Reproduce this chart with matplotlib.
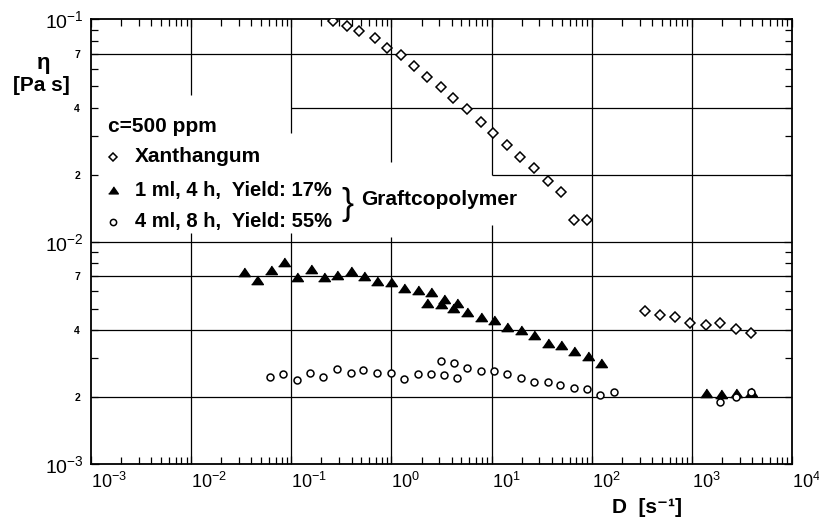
import matplotlib.pyplot as plt

plt.rcParams['font.family'] = ['Liberation Sans', 'DejaVu Sans']
plt.rcParams['mathtext.fontset'] = 'custom'
plt.rcParams['mathtext.rm'] = 'Liberation Sans'
plt.rcParams['mathtext.default'] = 'regular'

# Xanthangum
xan_D = [0.263, 0.363, 0.479, 0.683, 0.912, 1.24, 1.69, 2.26, 3.12, 4.16,
         5.66, 7.82, 10.4, 14.4, 19.3, 26.6, 36.2, 49.2, 66.8, 89.5,
         342, 483, 683, 965, 1371, 1923, 2735, 3893]
xan_eta = [0.0984, 0.0935, 0.0888, 0.0822, 0.0746, 0.069, 0.0618, 0.0551, 0.0495, 0.0442,
           0.0394, 0.0347, 0.031, 0.0272, 0.0241, 0.0214, 0.0187, 0.0167, 0.01253, 0.01253,
           0.00489, 0.00468, 0.00457, 0.0043, 0.00422, 0.0043, 0.00404, 0.00387]

# 1 ml, 4 h, yield 17%
tri_D = [0.0338, 0.0458, 0.0624, 0.0847, 0.115, 0.157, 0.213, 0.289, 0.393, 0.533,
         0.724, 0.986, 1.34, 1.82, 2.48, 2.29, 3.31, 3.12, 4.56, 4.16,
         5.74, 7.82, 10.6, 14.4, 19.6, 26.7, 36.2, 49.2, 66.8, 90.8,
         124, 1393, 1952, 2756, 3893]
tri_eta = [0.00733, 0.00672, 0.00746, 0.00807, 0.00696, 0.00754, 0.00692, 0.00708, 0.0074, 0.00701,
           0.00667, 0.0066, 0.00621, 0.00606, 0.00592, 0.00532, 0.00552, 0.00523, 0.00528, 0.00505,
           0.00484, 0.00457, 0.00444, 0.00414, 0.00401, 0.0038, 0.00351, 0.00343, 0.00322, 0.00306,
           0.00285, 0.00208, 0.00206, 0.00208, 0.00211]

# 4 ml, 8 h, yield 55%
circ_D = [0.0614, 0.0833, 0.1135, 0.154, 0.2096, 0.285, 0.393, 0.525, 0.724, 0.986,
          1.34, 1.82, 2.48, 3.12, 3.36, 4.23, 4.56, 5.74, 7.82, 10.6,
          14.4, 19.6, 26.7, 36.2, 48.4, 66.8, 89.5, 122, 165,
          1923, 2735, 3893]
circ_eta = [0.002453, 0.00254, 0.002385, 0.00256, 0.00247, 0.00267, 0.00258, 0.00265, 0.00258, 0.00258,
            0.0024, 0.00254, 0.00254, 0.0029, 0.00251, 0.00285, 0.00245, 0.00271, 0.00263, 0.00263,
            0.00254, 0.00245, 0.00234, 0.00233, 0.00227, 0.0022, 0.002167, 0.002036, 0.002107,
            0.001905, 0.001995, 0.0021]

x_exp = [-3, -2, -1, 0, 1, 2, 3, 4]
y_exp = [-3, -2, -1]
y_minor_lab = {2: '2', 4: '4', 7: '7'}

# grid pieces, broken where the legend text sits
vgrid = [(1e-2, 0.0457, 0.1), (1e-2, 1e-3, 0.011),
         (1e-1, 0.0308, 0.1), (1e-1, 1e-3, 0.011),
         (1e0, 0.0229, 0.1), (1e0, 1e-3, 0.0105),
         (1e1, 0.02, 0.1), (1e1, 1e-3, 0.0119),
         (1e2, 1e-3, 0.1), (1e3, 1e-3, 0.1)]
hgrid = [(7e-2, 1e-3, 1e4), (4e-2, 1e-1, 1e4), (2e-2, 1e1, 1e4),
         (1e-2, 1e-3, 1e4), (7e-3, 1e-3, 1e4), (4e-3, 1e-3, 1e4), (2e-3, 1e-3, 1e4)]

fig = plt.figure(figsize=(8.2, 5.21), dpi=100)
ax = fig.add_axes([0.111, 0.1094, 0.8549, 0.8532])
ax.set_xscale('log')
ax.set_yscale('log')
ax.set_xlim(1e-3, 1e4)
ax.set_ylim(1e-3, 1e-1)

for x, y0, y1 in vgrid:
    ax.vlines(x, y0, y1, color='k', lw=0.9, zorder=1)
for y, x0, x1 in hgrid:
    ax.hlines(y, x0, x1, color='k', lw=0.9, zorder=1)

tri = [(-1, -0.7), (1, -0.7), (0, 0.75)]
ax.plot(xan_D, xan_eta, ls='none', marker='D', ms=5.2, mfc='white', mec='k', mew=1.1, zorder=3)
ax.plot(tri_D, tri_eta, ls='none', marker=tri, ms=8.5, color='k', zorder=3)
ax.plot(circ_D, circ_eta, ls='none', marker='o', ms=5, mfc='white', mec='k', mew=1.1, zorder=4)

# ticks
ax.set_xticks([10.0 ** e for e in x_exp], ['$10^{%d}$' % e for e in x_exp])
ax.set_xticks([m * 10.0 ** e for e in x_exp[:-1] for m in range(2, 10)], minor=True)
ax.set_xticklabels([], minor=True)
ax.set_yticks([10.0 ** e for e in y_exp], ['$10^{%d}$' % e for e in y_exp])
ymin_pos = [m * 10.0 ** e for e in y_exp[:-1] for m in range(2, 10)]
ymin_lab = [y_minor_lab.get(m, '') for e in y_exp[:-1] for m in range(2, 10)]
ax.set_yticks(ymin_pos, ymin_lab, minor=True)
ax.tick_params(which='both', direction='in', top=True, right=True, width=0.9, colors='k')
ax.tick_params(which='major', length=6)
ax.tick_params(which='minor', length=5)
ax.tick_params(axis='x', which='major', labelsize=13, pad=6)
ax.tick_params(axis='y', which='major', labelsize=14, pad=5)
ax.tick_params(axis='y', which='minor', labelsize=7.5, pad=8)
for lab in ax.get_xticklabels():
    lab.set_horizontalalignment('left')
for lab in ax.get_yticklabels(minor=True):
    lab.set_fontweight('bold')
for s in ax.spines.values():
    s.set_linewidth(1.3)

# legend block
tf = ax.transAxes
ax.text(0.024, 0.759, 'c=500 ppm', transform=tf, fontsize=15, fontweight='bold', va='center')
ax.plot([0.0314], [0.691], transform=tf, marker='D', ms=4.5, mfc='white', mec='k', mew=1.1, clip_on=False)
ax.plot([0.0314], [0.616], transform=tf, marker=tri, ms=7, color='k', clip_on=False)
ax.plot([0.0314], [0.545], transform=tf, marker='o', ms=4.5, mfc='white', mec='k', mew=1.1, clip_on=False)
ax.text(0.063, 0.691, 'Xanthangum', transform=tf, fontsize=15, fontweight='bold', va='center')
ax.text(0.063, 0.616, '1 ml, 4 h,  Yield: 17%', transform=tf, fontsize=14.5, fontweight='bold', va='center')
ax.text(0.063, 0.545, '4 ml, 8 h,  Yield: 55%', transform=tf, fontsize=14.5, fontweight='bold', va='center')
ax.text(0.357, 0.583, '}', transform=tf, fontsize=26, va='center')
ax.text(0.386, 0.594, 'Graftcopolymer', transform=tf, fontsize=15, fontweight='bold', va='center')

# axis titles
fig.text(0.053, 0.879, 'η', fontsize=16, fontweight='bold', ha='center', va='center')
fig.text(0.05, 0.835, '[Pa s]', fontsize=15, fontweight='bold', ha='center', va='center')
fig.text(0.746, 0.025, 'D  [s⁻¹]', fontsize=15, fontweight='bold', ha='left', va='center')

fig.savefig('out.png', dpi=100)
